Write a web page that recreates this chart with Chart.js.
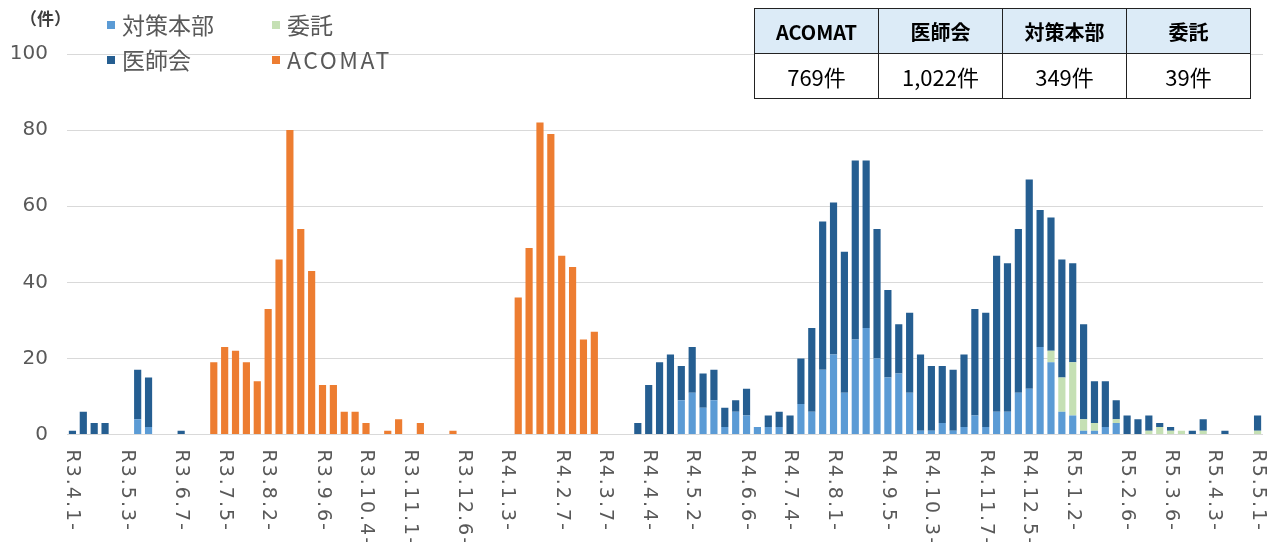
<!DOCTYPE html>
<html lang="ja">
<head>
<meta charset="utf-8">
<script src="https://cdn.jsdelivr.net/npm/chart.js@4.4.1/dist/chart.umd.min.js"></script>
<style>
  html, body { margin: 0; padding: 0; background: #fff; }
  #wrap { position: relative; width: 1278px; height: 542px; overflow: hidden; }
  #chart { position: absolute; left: 0; top: 0; }
  .unit { position: absolute; left: 20px; top: 5px; font: bold 17px "Noto Sans CJK JP"; color: #404040; }
  .lg { position: absolute; font: 23px "Noto Sans CJK JP"; color: #595959; line-height: 1; white-space: nowrap; }
  .lg i { display: inline-block; width: 8px; height: 8px; margin-right: 7px; vertical-align: 5px; }
  .lg .lat { letter-spacing: 2.5px; }
  table.tot { position: absolute; left: 754px; top: 8px; width: 497px; table-layout: fixed;
              border-collapse: collapse; font-family: "Noto Sans CJK JP"; color: #000; }
  table.tot td { border: 1.5px solid #222; text-align: center; padding: 0; }
  table.tot tr.h td { background: #dcebf7; font-weight: bold; font-size: 20px; height: 44px; }
  table.tot tr.b td { background: #fff; font-size: 22px; height: 44px; }
</style>
</head>
<body>
<div id="wrap">
  <canvas id="chart" width="1278" height="542"></canvas>
  <div class="unit">（件）</div>
  <div class="lg" style="left:107px; top:13px;"><i style="background:#5b9bd5"></i>対策本部</div>
  <div class="lg" style="left:272px; top:13px;"><i style="background:#c5e0b4"></i>委託</div>
  <div class="lg" style="left:107px; top:48px;"><i style="background:#255e91"></i>医師会</div>
  <div class="lg" style="left:272px; top:48px;"><i style="background:#ed7d31"></i><span class="lat">ACOMAT</span></div>
  <table class="tot">
    <tr class="h"><td>ACOMAT</td><td>医師会</td><td>対策本部</td><td>委託</td></tr>
    <tr class="b"><td>769件</td><td>1,022件</td><td>349件</td><td>39件</td></tr>
  </table>
</div>
<script>
"use strict";

// ── Data ──────────────────────────────────────────────────────────────
// weekly buckets, R3.4.1 (2021-04-01) .. R5.5.1 (2023-05-01), 110 weeks
const START_MONDAY = new Date(2021, 2, 29);
const N_WEEKS = 110;

const tickLabels = [
  'R3.4.1-', 'R3.5.3-', 'R3.6.7-', 'R3.7.5-', 'R3.8.2-', 'R3.9.6-', 'R3.10.4-',
  'R3.11.1-', 'R3.12.6-', 'R4.1.3-', 'R4.2.7-', 'R4.3.7-', 'R4.4.4-', 'R4.5.2-',
  'R4.6.6-', 'R4.7.4-', 'R4.8.1-', 'R4.9.5-', 'R4.10.3-', 'R4.11.7-', 'R4.12.5-',
  'R5.1.2-', 'R5.2.6-', 'R5.3.6-', 'R5.4.3-', 'R5.5.1-'
];

const seriesNames = ['対策本部', '委託', '医師会', 'ACOMAT'];

const taisaku = [
  0, 0, 0, 0, 0, 0, 4, 2, 0, 0,
  0, 0, 0, 0, 0, 0, 0, 0, 0, 0,
  0, 0, 0, 0, 0, 0, 0, 0, 0, 0,
  0, 0, 0, 0, 0, 0, 0, 0, 0, 0,
  0, 0, 0, 0, 0, 0, 0, 0, 0, 0,
  0, 0, 0, 0, 0, 0, 9, 11, 7, 9,
  2, 6, 5, 2, 2, 2, 0, 8, 6, 17,
  21, 11, 25, 28, 20, 15, 16, 11, 1, 1,
  3, 1, 2, 5, 2, 6, 6, 11, 12, 23,
  19, 6, 5, 1, 1, 2, 3, 0, 0, 0,
  0, 0, 0, 0, 0, 0, 0, 0, 0, 0
];

const itaku = [
  0, 0, 0, 0, 0, 0, 0, 0, 0, 0,
  0, 0, 0, 0, 0, 0, 0, 0, 0, 0,
  0, 0, 0, 0, 0, 0, 0, 0, 0, 0,
  0, 0, 0, 0, 0, 0, 0, 0, 0, 0,
  0, 0, 0, 0, 0, 0, 0, 0, 0, 0,
  0, 0, 0, 0, 0, 0, 0, 0, 0, 0,
  0, 0, 0, 0, 0, 0, 0, 0, 0, 0,
  0, 0, 0, 0, 0, 0, 0, 0, 0, 0,
  0, 0, 0, 0, 0, 0, 0, 0, 0, 0,
  3, 9, 14, 3, 2, 0, 1, 0, 0, 1,
  2, 1, 1, 0, 1, 0, 0, 0, 0, 1
];

const ishikai = [
  1, 6, 3, 3, 0, 0, 13, 13, 0, 0,
  1, 0, 0, 0, 0, 0, 0, 0, 0, 0,
  0, 0, 0, 0, 0, 0, 0, 0, 0, 0,
  0, 0, 0, 0, 0, 0, 0, 0, 0, 0,
  0, 0, 0, 0, 0, 0, 0, 0, 0, 0,
  0, 0, 3, 13, 19, 21, 9, 12, 9, 8,
  5, 3, 7, 0, 3, 4, 5, 12, 22, 39,
  40, 37, 47, 44, 34, 23, 13, 21, 20, 17,
  15, 16, 19, 28, 30, 41, 39, 43, 55, 36,
  35, 31, 26, 25, 11, 12, 5, 5, 4, 4,
  1, 1, 0, 1, 3, 0, 1, 0, 0, 4
];

const acomat = [
  0, 0, 0, 0, 0, 0, 0, 0, 0, 0,
  0, 0, 0, 19, 23, 22, 19, 14, 33, 46,
  80, 54, 43, 13, 13, 6, 6, 3, 0, 1,
  4, 0, 3, 0, 0, 1, 0, 0, 0, 0,
  0, 36, 49, 82, 79, 47, 44, 25, 27, 0,
  0, 0, 0, 0, 0, 0, 0, 0, 0, 0,
  0, 0, 0, 0, 0, 0, 0, 0, 0, 0,
  0, 0, 0, 0, 0, 0, 0, 0, 0, 0,
  0, 0, 0, 0, 0, 0, 0, 0, 0, 0,
  0, 0, 0, 0, 0, 0, 0, 0, 0, 0,
  0, 0, 0, 0, 0, 0, 0, 0, 0, 0
];

const yTicks = [0, 20, 40, 60, 80, 100];

// ── Week labels (Reiwa year.month.day-) ──────────────────────────────
const weeks = Array.from({ length: N_WEEKS }, (_, i) => {
  if (i === 0) return 'R3.4.1-';
  const d = new Date(START_MONDAY.getTime());
  d.setDate(d.getDate() + i * 7);
  return `R${d.getFullYear() - 2018}.${d.getMonth() + 1}.${d.getDate()}-`;
});

// x labels read top-to-bottom (rotated clockwise), Chart.js can't do that natively
const xLabelPlugin = {
  id: 'xLabels',
  afterDraw(chart) {
    const { ctx, chartArea, scales: { x } } = chart;
    ctx.save();
    ctx.font = '19px "DejaVu Sans"';
    ctx.letterSpacing = '2px';
    ctx.fillStyle = '#595959';
    ctx.textAlign = 'left';
    ctx.textBaseline = 'middle';
    weeks.forEach((w, i) => {
      if (!tickLabels.includes(w)) return;
      ctx.save();
      ctx.translate(x.getPixelForValue(i), chartArea.bottom + 15);
      ctx.rotate(Math.PI / 2);
      ctx.fillText(w, 0, 0);
      ctx.restore();
    });
    ctx.restore();
  }
};

const colors = ['#5b9bd5', '#c5e0b4', '#255e91', '#ed7d31'];
const values = [taisaku, itaku, ishikai, acomat];

new Chart(document.getElementById('chart').getContext('2d'), {
  type: 'bar',
  data: {
    labels: weeks,
    datasets: seriesNames.map((name, k) => ({
      label: name,
      data: values[k],
      backgroundColor: colors[k],
      borderWidth: 0,
      categoryPercentage: 1,
      barPercentage: 0.66,
    }))
  },
  options: {
    responsive: false,
    animation: false,
    layout: { padding: { top: 54, right: 15, left: 0, bottom: 0 } },
    plugins: { legend: { display: false }, tooltip: { enabled: false } },
    scales: {
      x: {
        stacked: true,
        grid: { display: false },
        border: { display: false },
        ticks: { display: false },
        afterFit(s) { s.height = 107.5; }
      },
      y: {
        stacked: true,
        min: 0, max: 100,
        afterBuildTicks(s) { s.ticks = yTicks.map(v => ({ value: v })); },
        grid: { color: '#d9d9d9', lineWidth: 1, drawTicks: false },
        border: { display: false },
        ticks: { color: '#595959', font: { size: 20, family: 'DejaVu Sans' }, padding: 19 },
        afterFit(s) { s.width = 67; }
      }
    }
  },
  plugins: [xLabelPlugin]
});
</script>
</body>
</html>
